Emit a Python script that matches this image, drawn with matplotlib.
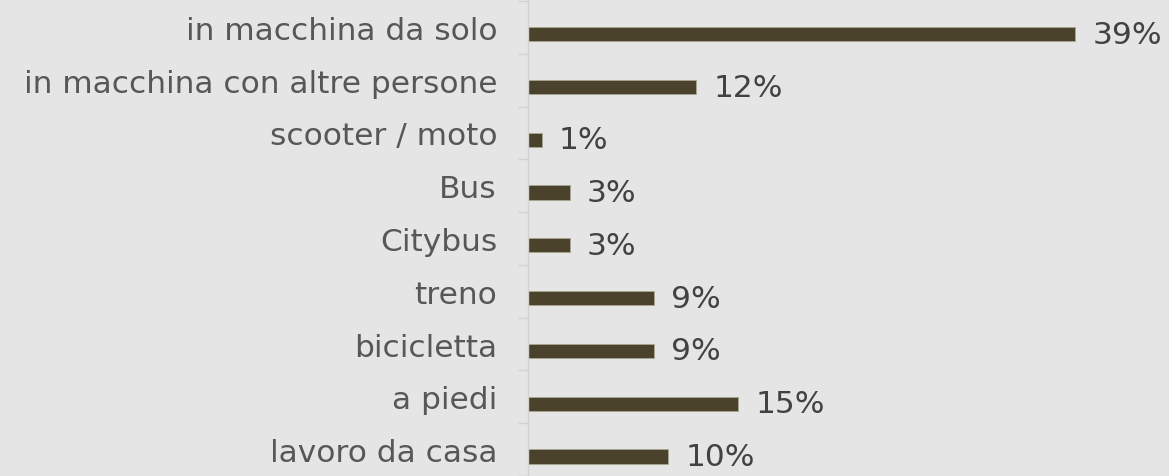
import numpy as np
import matplotlib
matplotlib.use('Agg')
import matplotlib.pyplot as plt

categories = ['in macchina da solo', 'in macchina con altre persone', 'scooter / moto',
              'Bus', 'Citybus', 'treno', 'bicicletta', 'a piedi', 'lavoro da casa']
shares = [39, 12, 1, 3, 3, 9, 9, 15, 10]   # percent

BG = '#e4e5e4'
BAR = '#4a422b'
TXT = '#575757'
VAL = '#424242'
GRID = '#d2d2d2'

W, H = 1169, 477
fig = plt.figure(figsize=(W / 100, H / 100), dpi=100, facecolor=BG)

# axes placed in pixel terms: value axis starts at x=528, bands are ~53 px tall
x0, top = 528, 2
band = 53.06
ax = fig.add_axes([x0 / W, 0, 1 - x0 / W, 1 - top / H])
ax.set_facecolor(BG)

px_per_pct = 14.03
ax.set_xlim(0, (W - x0) / px_per_pct)
ax.set_ylim(-0.5 + (H - top) / band, -0.5)

y = np.arange(len(categories))
ax.barh(y + 0.13, shares, height=0.27, color=BAR, edgecolor='#a9a692', linewidth=0.6)

for yi, v in zip(y, shares):
    ax.annotate(f'{v}%', (v, yi + 0.13), xytext=(17, 0), textcoords='offset pixels',
                va='center', ha='left', fontsize=22.5, color=VAL)

# category labels at band centres, tick marks at band boundaries
ax.set_yticks(y)
ax.set_yticklabels(categories, fontsize=22.5, color=TXT)
ax.tick_params(axis='y', which='major', length=0, pad=31 * 0.72)
ax.set_yticks(np.arange(len(categories) + 1) - 0.5, minor=True)
ax.tick_params(axis='y', which='minor', length=10 * 0.72, color=GRID, width=1)
ax.set_xticks([])

for s in ['top', 'right', 'bottom']:
    ax.spines[s].set_visible(False)
ax.spines['left'].set_color(GRID)
ax.spines['left'].set_linewidth(1)

fig.savefig('out.png', dpi=100, facecolor=BG)
